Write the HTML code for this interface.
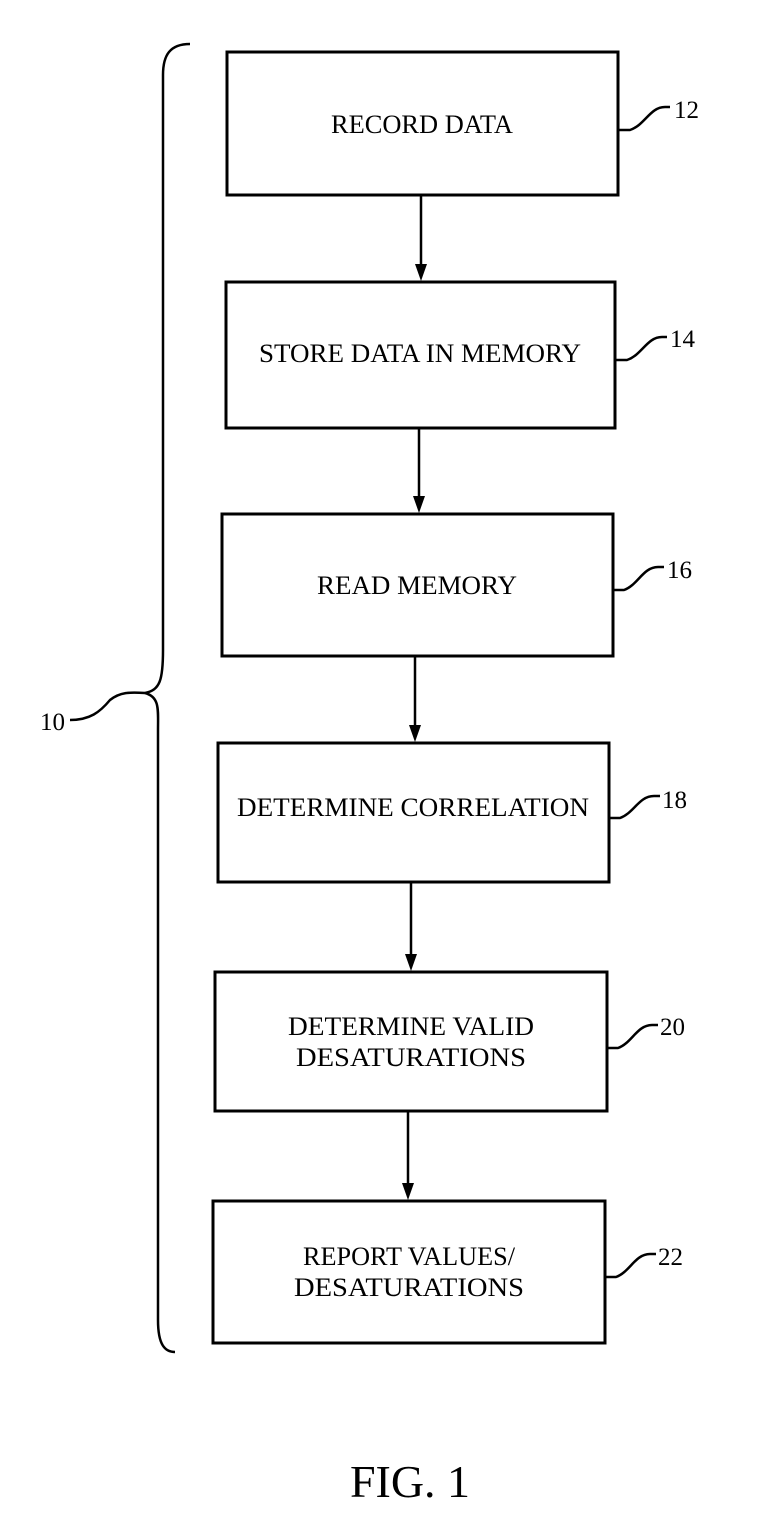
<!DOCTYPE html>
<html><head><style>
html,body{margin:0;padding:0;background:#fff;}
svg{display:block;}
text{font-family:"Liberation Serif",serif;fill:#000;}
</style></head><body>
<svg width="768" height="1517" viewBox="0 0 768 1517" xmlns="http://www.w3.org/2000/svg">
<g fill="none" stroke="#000" stroke-width="3">
<rect x="227" y="52" width="391" height="143"/>
<rect x="226" y="282" width="389" height="146"/>
<rect x="222" y="514" width="391" height="142"/>
<rect x="218" y="743" width="391" height="139"/>
<rect x="215" y="972" width="392" height="139"/>
<rect x="213" y="1201" width="392" height="142"/>
</g>
<g stroke="#000" stroke-width="2.5">
<line x1="421" y1="195" x2="421" y2="268"/>
<line x1="419" y1="428" x2="419" y2="500"/>
<line x1="415" y1="656" x2="415" y2="729"/>
<line x1="411" y1="882" x2="411" y2="958"/>
<line x1="408" y1="1111" x2="408" y2="1187"/>
</g>
<g fill="#000">
<path d="M415,264 L427,264 L421,281 Z"/>
<path d="M413,496 L425,496 L419,513 Z"/>
<path d="M409,725 L421,725 L415,742 Z"/>
<path d="M405,954 L417,954 L411,971 Z"/>
<path d="M402,1183 L414,1183 L408,1200 Z"/>
</g>
<g fill="none" stroke="#000" stroke-width="2.5">
<path d="M618,130 L630,130 C645,125 650,107 665,107 L670,107"/>
<path d="M615,360 L627,360 C642,355 647,337 662,337 L667,337"/>
<path d="M613,590 L624,590 C638,585 643,567 658,567 L664,567"/>
<path d="M609,818 L620,818 C634,813 639,796 654,796 L660,796"/>
<path d="M607,1048 L618,1048 C632,1043 637,1025 652,1025 L658,1025"/>
<path d="M605,1277 L616,1277 C630,1272 635,1254 650,1254 L656,1254"/>
<path d="M190,44 C170,44 163,55 163,75 L163,650 C163,680 160,690 145,693 C160,697 158,710 158,730 L158,1320 C158,1345 165,1352 175,1352"/>
<path d="M70,720 C90,720 100,712 110,700 C120,692 130,692 145,693"/>
</g>
<g font-size="26" text-anchor="middle">
<text x="422" y="133" textLength="182" lengthAdjust="spacingAndGlyphs">RECORD DATA</text>
<text x="420" y="362" textLength="322" lengthAdjust="spacingAndGlyphs">STORE DATA IN MEMORY</text>
<text x="417" y="594" textLength="200" lengthAdjust="spacingAndGlyphs">READ MEMORY</text>
<text x="413" y="816" textLength="352" lengthAdjust="spacingAndGlyphs">DETERMINE CORRELATION</text>
<text x="411" y="1035" textLength="246" lengthAdjust="spacingAndGlyphs">DETERMINE VALID</text>
<text x="411" y="1066" textLength="230" lengthAdjust="spacingAndGlyphs">DESATURATIONS</text>
<text x="409" y="1265" textLength="212" lengthAdjust="spacingAndGlyphs">REPORT VALUES/</text>
<text x="409" y="1296" textLength="230" lengthAdjust="spacingAndGlyphs">DESATURATIONS</text>
</g>
<g font-size="25">
<text x="674" y="118">12</text>
<text x="670" y="347">14</text>
<text x="667" y="578">16</text>
<text x="662" y="808">18</text>
<text x="660" y="1035">20</text>
<text x="658" y="1265">22</text>
<text x="40" y="730">10</text>
</g>
<text x="410" y="1497" font-size="46" text-anchor="middle">FIG. 1</text>
</svg>
</body></html>
